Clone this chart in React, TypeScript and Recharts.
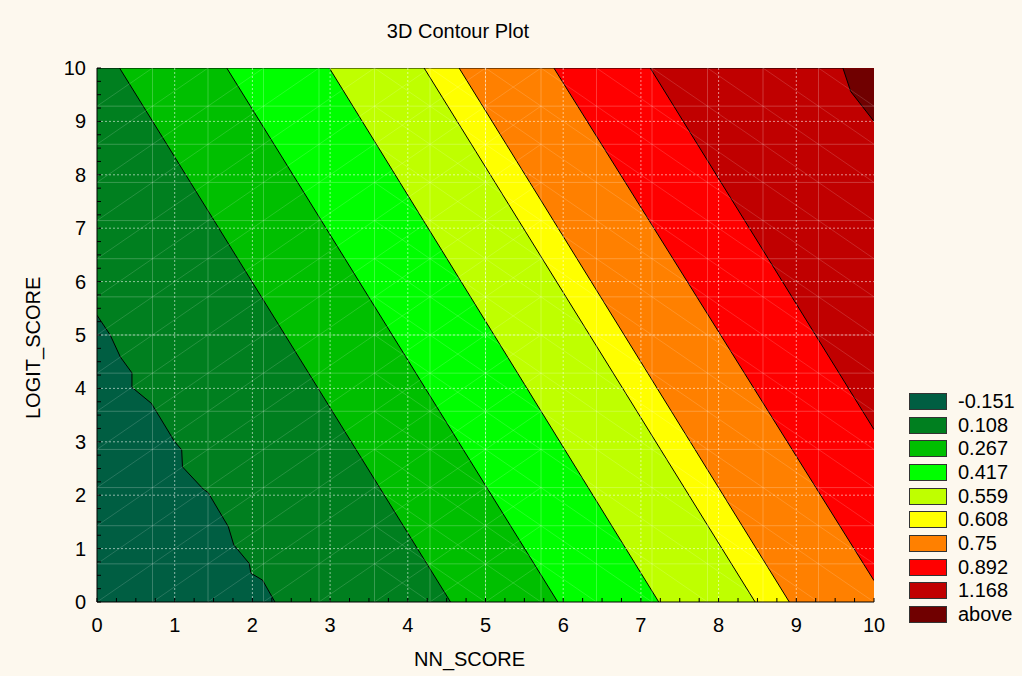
import { Area, ComposedChart, ReferenceLine, XAxis, YAxis } from 'recharts';

const LEVELS = ['-0.151', '0.108', '0.267', '0.417', '0.559', '0.608', '0.75', '0.892', '1.168', 'above'];
const COLORS = ['#005E42', '#007F1F', '#00BF00', '#00FF00', '#BFFF00', '#FFFF00', '#FF8000', '#FF0000', '#C00000', '#700000'];

// upper-right edge of the region at or below each level
const EDGE_N0151 = [
  { x: 0, y: 5.37 }, { x: 0.17, y: 5.0 }, { x: 0.3, y: 4.59 }, { x: 0.45, y: 4.29 }, { x: 0.45, y: 4.02 },
  { x: 0.7, y: 3.72 }, { x: 1.0, y: 3.0 }, { x: 1.09, y: 2.85 }, { x: 1.1, y: 2.53 }, { x: 1.37, y: 2.11 },
  { x: 1.43, y: 2.05 }, { x: 1.69, y: 1.41 }, { x: 1.76, y: 1.07 }, { x: 1.96, y: 0.72 }, { x: 1.98, y: 0.54 },
  { x: 2.13, y: 0.41 }, { x: 2.29, y: 0 },
];
const EDGE_0108 = [{ x: 0, y: 10 }, { x: 0.29, y: 10 }, { x: 4.55, y: 0 }];
const EDGE_0267 = [{ x: 0, y: 10 }, { x: 1.67, y: 10 }, { x: 5.93, y: 0 }];
const EDGE_0417 = [{ x: 0, y: 10 }, { x: 2.99, y: 10 }, { x: 7.23, y: 0 }];
const EDGE_0559 = [{ x: 0, y: 10 }, { x: 4.21, y: 10 }, { x: 8.47, y: 0 }];
const EDGE_0608 = [{ x: 0, y: 10 }, { x: 4.66, y: 10 }, { x: 8.91, y: 0 }];
const EDGE_075 = [{ x: 0, y: 10 }, { x: 5.88, y: 10 }, { x: 10, y: 0.4 }];
const EDGE_0892 = [{ x: 0, y: 10 }, { x: 7.12, y: 10 }, { x: 10, y: 3.23 }];
const EDGE_1168 = [{ x: 0, y: 10 }, { x: 9.6, y: 10 }, { x: 9.7, y: 9.56 }, { x: 10, y: 9.0 }];
const EDGE_ABOVE = [{ x: 0, y: 10 }, { x: 10, y: 10 }];

const EDGES = [EDGE_N0151, EDGE_0108, EDGE_0267, EDGE_0417, EDGE_0559, EDGE_0608, EDGE_075, EDGE_0892, EDGE_1168, EDGE_ABOVE];

const MAJOR_TICKS = [0, 1, 2, 3, 4, 5, 6, 7, 8, 9, 10];
const MINOR_TICKS = Array.from({ length: 41 }, (_, i) => i * 0.25);

// faint surface mesh (14 x 14 cells)
const MESH_STEP = 10 / 14;
const MESH = Array.from({ length: 13 }, (_, i) => (i + 1) * MESH_STEP);
const diagUp: { x: number; y: number }[][] = [];
const diagDown: { x: number; y: number }[][] = [];
for (let k = -14; k <= 14; k++) {
  const c = k * MESH_STEP;
  const a = Math.max(0, c), b = Math.min(5.72, 10 + c);
  if (b - a > 0.01) diagUp.push([{ x: a, y: a - c }, { x: b, y: b - c }]);
}
for (let k = 0; k <= 28; k++) {
  const c = k * MESH_STEP;
  const a = Math.max(3.57, c - 10), b = Math.min(10, c);
  if (b - a > 0.01) diagDown.push([{ x: a, y: c - a }, { x: b, y: c - b }]);
}

const FONT = '"Liberation Sans", Arial, sans-serif';

const BottomTick = ({ x, y, payload }: any) => (
  <g>
    <line x1={x} x2={x} y1={y} y2={y - 4} stroke="#000" />
    {Number.isInteger(payload.value) && (
      <text x={x} y={y + 30} textAnchor="middle" fontSize={20} fill="#000" fontFamily={FONT}>{payload.value}</text>
    )}
  </g>
);
const TopTick = ({ x, y }: any) => <line x1={x} x2={x} y1={y} y2={y + 4} stroke="#000" />;
const LeftTick = ({ x, y, payload }: any) => (
  <g>
    <line x1={x} x2={x + 4} y1={y} y2={y} stroke="#000" />
    {Number.isInteger(payload.value) && (
      <text x={x - 11} y={y + 7} textAnchor="end" fontSize={20} fill="#000" fontFamily={FONT}>{payload.value}</text>
    )}
  </g>
);
const RightTick = ({ x, y }: any) => <line x1={x} x2={x - 4} y1={y} y2={y} stroke="#000" />;

export default function App() {
  const order = [...EDGES.keys()].reverse();
  return (
    <div style={{ position: 'absolute', left: 0, top: 0, width: 1022, height: 676, background: '#FDF8EE', fontFamily: FONT }}>
      <div style={{ position: 'absolute', left: 358, top: 20, width: 200, textAlign: 'center', fontSize: 20 }}>3D Contour Plot</div>
      <ComposedChart width={1022} height={676} margin={{ top: 68, right: 148, bottom: 44, left: 37 }}>
        <XAxis xAxisId="b" dataKey="x" type="number" domain={[0, 10]} allowDataOverflow ticks={MINOR_TICKS} interval={0}
          tickSize={0} tickMargin={0} tick={<BottomTick />} tickLine={false} axisLine={{ stroke: '#000' }} height={30} />
        <XAxis xAxisId="t" orientation="top" type="number" domain={[0, 10]} allowDataOverflow ticks={MINOR_TICKS} interval={0}
          tickSize={0} tickMargin={0} tick={<TopTick />} tickLine={false} axisLine={{ stroke: '#000' }} height={0} />
        <YAxis yAxisId="l" type="number" domain={[0, 10]} allowDataOverflow ticks={MINOR_TICKS} interval={0}
          tickSize={0} tickMargin={0} tick={<LeftTick />} tickLine={false} axisLine={{ stroke: '#000' }} width={60} />
        <YAxis yAxisId="r" orientation="right" type="number" domain={[0, 10]} allowDataOverflow ticks={MINOR_TICKS} interval={0}
          tickSize={0} tickMargin={0} tick={<RightTick />} tickLine={false} axisLine={{ stroke: '#000' }} width={0} />
        {order.map((i) => (
          <Area key={LEVELS[i]} xAxisId="b" yAxisId="l" data={EDGES[i]} dataKey="y" type="linear"
            fill={COLORS[i]} fillOpacity={1} stroke={i === 9 ? 'none' : '#000'} strokeWidth={1}
            isAnimationActive={false} dot={false} activeDot={false} />
        ))}
        {MESH.map((v) => (
          <ReferenceLine key={`mx${v}`} xAxisId="b" yAxisId="l" x={v} stroke="#fff" strokeOpacity={0.22} />
        ))}
        {MESH.map((v) => (
          <ReferenceLine key={`my${v}`} xAxisId="b" yAxisId="l" y={v} stroke="#fff" strokeOpacity={0.22} />
        ))}
        {diagUp.map((s, i) => (
          <ReferenceLine key={`du${i}`} xAxisId="b" yAxisId="l" segment={s} stroke="#fff" strokeOpacity={0.15} />
        ))}
        {diagDown.map((s, i) => (
          <ReferenceLine key={`dd${i}`} xAxisId="b" yAxisId="l" segment={s} stroke="#fff" strokeOpacity={0.15} />
        ))}
        {MAJOR_TICKS.slice(1, -1).map((v) => (
          <ReferenceLine key={`gx${v}`} xAxisId="b" yAxisId="l" x={v} stroke="#fff" strokeOpacity={0.55} strokeDasharray="2 2" />
        ))}
        {MAJOR_TICKS.slice(1, -1).map((v) => (
          <ReferenceLine key={`gy${v}`} xAxisId="b" yAxisId="l" y={v} stroke="#fff" strokeOpacity={0.55} strokeDasharray="2 2" />
        ))}
      </ComposedChart>
      <div style={{ position: 'absolute', left: 414, top: 648, fontSize: 20 }}>NN_SCORE</div>
      <div style={{ position: 'absolute', left: 22, top: 346, fontSize: 20, transform: 'translate(0, -50%) rotate(-90deg)', transformOrigin: 'left top', whiteSpace: 'nowrap' }}>
        <span style={{ position: 'absolute', left: -73, top: 0 }}>LOGIT_SCORE</span>
      </div>
      <div style={{ position: 'absolute', left: 909, top: 393 }}>
        {LEVELS.map((lv, i) => (
          <div key={lv} style={{ display: 'flex', alignItems: 'center', height: 23.7 }}>
            <div style={{ width: 36, height: 15, background: COLORS[i], border: '1px solid #333', marginTop: -7 }} />
            <span style={{ marginLeft: 11, fontSize: 20, marginTop: -7 }}>{lv}</span>
          </div>
        ))}
      </div>
    </div>
  );
}
